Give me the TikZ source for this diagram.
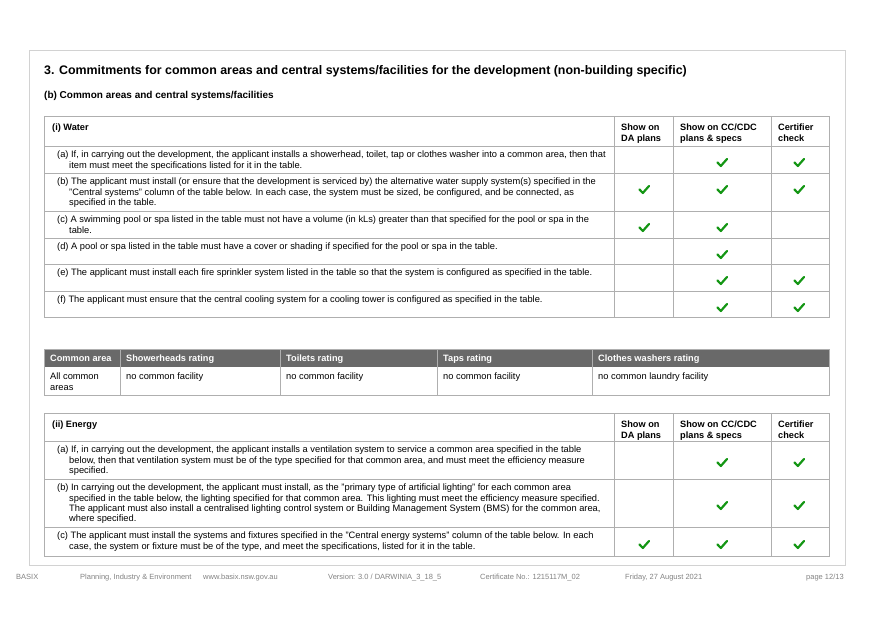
\documentclass[tikz,border=0pt]{standalone}
\usepackage{fontspec}
\setmainfont{Liberation Sans}
\usetikzlibrary{positioning}
\definecolor{lineGrey}{RGB}{175,175,175}
\definecolor{pageGrey}{RGB}{210,210,210}
\definecolor{headGrey}{RGB}{105,105,105}
\definecolor{tickGreen}{RGB}{20,150,20}
\definecolor{footGrey}{RGB}{130,130,130}
\newcommand{\tick}[2]{\draw[tickGreen, line width=2.2pt, line cap=round, line join=round] (#1-4.5,#2-0.5) -- (#1-1.2,#2+3) -- (#1+5,#2-4);}
\newcommand{\ind}{\\\hspace*{12pt}}
\begin{document}
\begin{tikzpicture}[
    x=1pt, y=-1pt,
    txt/.style={anchor=north west, inner sep=0pt, yshift=-2pt, align=left, font=\fontsize{9.3}{10.2}\selectfont},
    hd/.style={txt, font=\fontsize{9.2}{10.2}\selectfont\bfseries},
    foot/.style={anchor=base west, inner sep=0pt, text=footGrey, font=\fontsize{7.5}{9}\selectfont}
  ]
    \useasboundingbox (0,0) rectangle (874,617);
    \draw[pageGrey] (29,50) rectangle (845,565);

    \node[anchor=base west, inner sep=0pt, font=\fontsize{12.4}{14}\selectfont\bfseries] (title) at (44,75) {3. Commitments for common areas and central systems/facilities for the development (non-building specific)};
    \node[anchor=base west, inner sep=0pt, font=\fontsize{10}{12}\selectfont\bfseries] (subTitle) at (44,99) {(b) Common areas and central systems/facilities};

    % water table
    \draw[lineGrey] (44,116) rectangle (829,317);
    \foreach \y in {146,173,211,238,264,291} \draw[lineGrey] (44,\y) -- (829,\y);
    \foreach \x in {614,673,771} \draw[lineGrey] (\x,116) -- (\x,317);
    \node[hd] (waterHead) at (52,122) {(i) Water};
    \node[hd] (waterDa) at (621,122) {Show on\\DA plans};
    \node[hd] (waterCc) at (680,122) {Show on CC/CDC\\plans \& specs};
    \node[hd] (waterCert) at (778,122) {Certifier\\check};
    \node[txt] (waterA) at (57,149) {(a) If, in carrying out the development, the applicant installs a showerhead, toilet, tap or clothes washer into a common area, then that\ind item must meet the specifications listed for it in the table.};
    \node[txt] (waterB) at (57,176) {(b) The applicant must install (or ensure that the development is serviced by) the alternative water supply system(s) specified in the\ind "Central systems" column of the table below. In each case, the system must be sized, be configured, and be connected, as\ind specified in the table.};
    \node[txt] (waterC) at (57,214) {(c) A swimming pool or spa listed in the table must not have a volume (in kLs) greater than that specified for the pool or spa in the\ind table.};
    \node[txt] (waterD) at (57,241) {(d) A pool or spa listed in the table must have a cover or shading if specified for the pool or spa in the table.};
    \node[txt] (waterE) at (57,267) {(e) The applicant must install each fire sprinkler system listed in the table so that the system is configured as specified in the table.};
    \node[txt] (waterF) at (57,294) {(f) The applicant must ensure that the central cooling system for a cooling tower is configured as specified in the table.};
    \tick{722}{163} \tick{799}{163}
    \tick{644}{190} \tick{722}{190} \tick{799}{190}
    \tick{644}{228} \tick{722}{228}
    \tick{722}{255}
    \tick{722}{281} \tick{799}{281}
    \tick{722}{308} \tick{799}{308}

    % ratings table
    \fill[headGrey] (44,349) rectangle (829,367);
    \draw[lineGrey] (44,349) rectangle (829,395);
    \foreach \x in {120,280,437,592} \draw[lineGrey] (\x,349) -- (\x,395);
    \node[hd, text=white] (rateArea) at (50,353) {Common area};
    \node[hd, text=white] (rateShower) at (126,353) {Showerheads rating};
    \node[hd, text=white] (rateToilet) at (286,353) {Toilets rating};
    \node[hd, text=white] (rateTap) at (443,353) {Taps rating};
    \node[hd, text=white] (rateWasher) at (598,353) {Clothes washers rating};
    \node[txt] (valArea) at (50,371) {All common\\areas};
    \node[txt] (valShower) at (126,371) {no common facility};
    \node[txt] (valToilet) at (286,371) {no common facility};
    \node[txt] (valTap) at (443,371) {no common facility};
    \node[txt] (valWasher) at (598,371) {no common laundry facility};

    % energy table
    \draw[lineGrey] (44,413) rectangle (829,556);
    \foreach \y in {441,479,527} \draw[lineGrey] (44,\y) -- (829,\y);
    \foreach \x in {614,673,771} \draw[lineGrey] (\x,413) -- (\x,556);
    \node[hd] (energyHead) at (52,419) {(ii) Energy};
    \node[hd] (energyDa) at (621,419) {Show on\\DA plans};
    \node[hd] (energyCc) at (680,419) {Show on CC/CDC\\plans \& specs};
    \node[hd] (energyCert) at (778,419) {Certifier\\check};
    \node[txt] (energyA) at (57,444) {(a) If, in carrying out the development, the applicant installs a ventilation system to service a common area specified in the table\ind below, then that ventilation system must be of the type specified for that common area, and must meet the efficiency measure\ind specified.};
    \node[txt] (energyB) at (57,482) {(b) In carrying out the development, the applicant must install, as the "primary type of artificial lighting" for each common area\ind specified in the table below, the lighting specified for that common area. This lighting must meet the efficiency measure specified.\ind The applicant must also install a centralised lighting control system or Building Management System (BMS) for the common area,\ind where specified.};
    \node[txt] (energyC) at (57,530) {(c) The applicant must install the systems and fixtures specified in the "Central energy systems" column of the table below. In each\ind case, the system or fixture must be of the type, and meet the specifications, listed for it in the table.};
    \tick{722}{463} \tick{799}{463}
    \tick{722}{506} \tick{799}{506}
    \tick{644}{545} \tick{722}{545} \tick{799}{545}

    % footer
    \node[foot] (footBasix) at (16,579) {BASIX};
    \node[foot] (footDept) at (80,579) {Planning, Industry \& Environment};
    \node[foot] (footWeb) at (203,579) {www.basix.nsw.gov.au};
    \node[foot] (footVer) at (328,579) {Version: 3.0 / DARWINIA\_3\_18\_5};
    \node[foot] (footCert) at (480,579) {Certificate No.: 1215117M\_02};
    \node[foot] (footDate) at (625,579) {Friday, 27 August 2021};
    \node[foot] (footPage) at (806,579) {page 12/13};
\end{tikzpicture}
\end{document}
